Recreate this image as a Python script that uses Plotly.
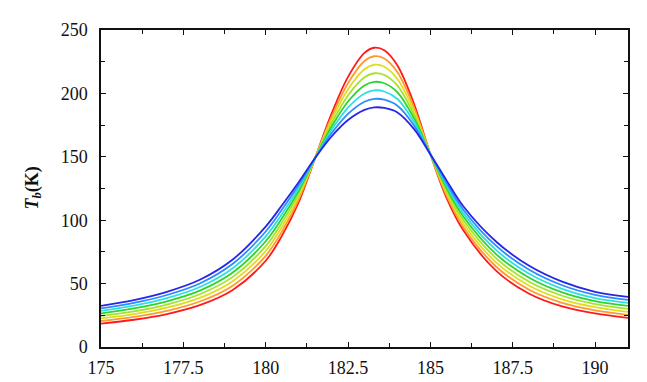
import plotly.graph_objects as go

freq = [175, 176, 177, 178, 179, 180, 180.5, 181, 181.5, 182, 182.5, 183, 183.3,
        183.6, 184, 184.5, 185, 185.5, 186, 187, 188, 189, 190, 191]

tb_1 = [18.5, 21.5, 26, 33, 45, 68, 88, 114, 149, 184, 213, 232, 236,
        234, 222, 192, 152, 117, 92, 60, 42, 32, 26.5, 23]
tb_2 = [20.5, 23.7, 28.5, 35.9, 48.4, 71.9, 91.4, 116.3, 149, 181.4, 208.1, 225.6, 229.3,
        227.5, 216.7, 189.1, 152, 119, 94.7, 63.3, 45.1, 34.8, 28.9, 25.4]
tb_3 = [22.5, 25.9, 31, 38.7, 51.9, 75.7, 94.9, 118.6, 149, 178.9, 203.3, 219.1, 222.6,
        221, 211.4, 186.3, 152, 121, 97.4, 66.6, 48.3, 37.6, 31.4, 27.7]
tb_4 = [24.5, 28.1, 33.5, 41.6, 55.3, 79.6, 98.3, 120.9, 149, 176.3, 198.4, 212.7, 215.9,
        214.5, 206.1, 183.4, 152, 123, 100.1, 69.9, 51.4, 40.4, 33.8, 30.1]
tb_5 = [26.5, 30.4, 36, 44.4, 58.7, 83.4, 101.7, 123.1, 149, 173.7, 193.6, 206.3, 209.1,
        208, 200.9, 180.6, 152, 125, 102.9, 73.1, 54.6, 43.1, 36.2, 32.4]
tb_6 = [28.5, 32.6, 38.5, 47.3, 62.1, 87.3, 105.1, 125.4, 149, 171.1, 188.7, 199.9, 202.4,
        201.5, 195.6, 177.7, 152, 127, 105.6, 76.4, 57.7, 45.9, 38.6, 34.8]
tb_7 = [30.5, 34.8, 41, 50.1, 65.6, 91.1, 108.6, 127.7, 149, 168.6, 183.9, 193.4, 195.7,
        195, 190.3, 174.9, 152, 129, 108.3, 79.7, 60.9, 48.7, 41.1, 37.1]
tb_8 = [32.5, 37, 43.5, 53, 69, 95, 112, 130, 149, 166, 179, 187, 189,
        188.5, 185, 172, 152, 131, 111, 83, 64, 51.5, 43.5, 39.5]

series = [tb_1, tb_2, tb_3, tb_4, tb_5, tb_6, tb_7, tb_8]
colors = ["#ff1a1a", "#ff9a2e", "#dede1e", "#a6e22e", "#2ed42e",
          "#2ee0e0", "#2e8cff", "#2626e6"]

x_ticks = [175, 177.5, 180, 182.5, 185, 187.5, 190]
x_labels = ["175", "177.5", "180", "182.5", "185", "187.5", "190"]
y_ticks = [0, 50, 100, 150, 200, 250]

fig = go.Figure()
for ys, c in zip(series, colors):
    fig.add_trace(go.Scatter(x=freq, y=ys, mode="lines",
                             line=dict(color=c, width=1.8, shape="spline", smoothing=1.0),
                             showlegend=False, hoverinfo="skip"))

font = dict(family="Liberation Serif", size=18, color="#111")
axis_common = dict(showline=True, linecolor="#111", linewidth=1.5, mirror="ticks",
                   ticks="inside", ticklen=5, tickwidth=1.3, tickcolor="#111",
                   showgrid=False, zeroline=False, tickfont=font)

fig.update_xaxes(range=[175, 191], tickvals=x_ticks, ticktext=x_labels,
                 ticklabelstandoff=4,
                 minor=dict(dtick=1.25, tick0=175, ticks="inside", ticklen=4,
                            tickwidth=1.2, tickcolor="#111", showgrid=False),
                 **axis_common)
fig.update_yaxes(range=[0, 250], tickvals=y_ticks, ticklabelstandoff=8,
                 minor=dict(dtick=25, tick0=0, ticks="inside", ticklen=4,
                            tickwidth=1.2, tickcolor="#111", showgrid=False),
                 **axis_common)

fig.add_annotation(text="<b><i>T</i></b><sub><i><b>b</b></i></sub><b>(K)</b>",
                   xref="paper", yref="paper", x=-0.129, y=0.5, showarrow=False,
                   xanchor="center", yanchor="middle",
                   textangle=-90, font=dict(family="Liberation Serif", size=18, color="#111"))

fig.update_layout(width=647, height=382, margin=dict(l=93, r=27, t=12, b=43),
                  plot_bgcolor="white", paper_bgcolor="white")

fig.write_html("out.html")
